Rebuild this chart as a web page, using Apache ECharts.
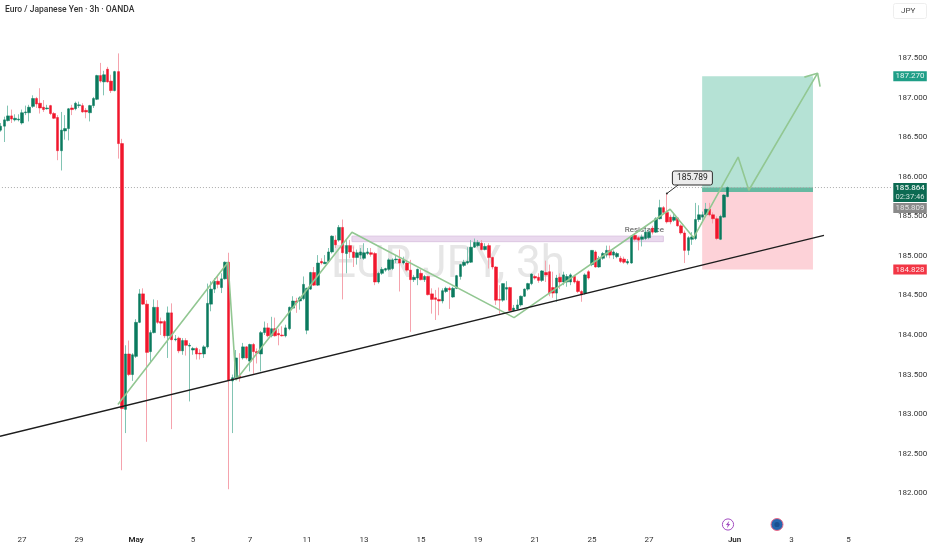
<!DOCTYPE html>
<html><head><meta charset="utf-8">
<style>html,body{margin:0;padding:0;background:#fff}#c{width:932px;height:550px}</style>
<script src="https://cdn.jsdelivr.net/npm/echarts@6/dist/echarts.min.js"></script>
</head><body><div id="c"></div>
<script>
const opens=[186.59,186.64,186.71,186.77,186.72,186.72,186.68,186.81,186.81,186.89,
186.99,186.93,186.88,186.86,186.90,186.80,186.75,186.33,186.58,186.61,
186.87,186.86,186.90,186.90,186.84,186.81,186.90,186.98,187.28,187.20,
187.36,187.21,187.09,187.33,186.42,183.06,183.76,183.50,183.73,184.16,
184.52,184.39,183.79,184.03,184.35,184.17,184.17,183.99,184.28,183.94,
183.96,183.80,183.93,183.86,183.81,183.83,183.77,183.76,183.85,184.39,
184.58,184.68,184.60,184.71,184.92,183.42,183.46,183.48,183.71,183.85,
183.67,183.88,183.79,183.76,184.03,184.09,183.99,184.08,184.02,184.00,
183.99,184.08,184.34,184.43,184.43,184.46,184.06,184.58,184.79,184.63,
184.93,184.90,184.93,185.05,185.20,185.20,185.36,185.03,185.13,185.05,
184.98,185.01,184.97,185.03,185.04,185.03,184.67,184.78,184.82,184.83,
184.84,184.95,184.96,184.91,184.91,184.82,184.70,184.72,184.78,184.70,
184.74,184.52,184.47,184.45,184.43,184.55,184.59,184.48,184.59,184.74,
184.88,184.91,184.92,185.11,185.13,185.16,185.08,185.13,184.98,184.86,
184.45,184.44,184.58,184.60,184.31,184.33,184.38,184.49,184.58,184.65,
184.74,184.73,184.69,184.79,184.80,184.60,184.53,184.73,184.67,184.67,
184.67,184.74,184.68,184.55,184.53,184.80,184.89,185.05,184.86,184.97,
185.01,185.07,185.01,184.99,184.97,184.96,184.91,184.91,185.26,185.23,
185.21,185.22,185.23,185.35,185.30,185.47,185.61,185.55,185.49,185.45,
185.48,185.38,185.29,185.07,185.21,185.22,185.46,185.49,185.52,185.59,
185.52,185.47,185.21,185.49,185.75];
const closes=[186.64,186.72,186.77,186.73,186.74,186.73,186.81,186.82,186.88,186.99,
186.92,186.87,186.85,186.87,186.80,186.74,186.33,186.59,186.61,186.86,
186.85,186.93,186.91,186.82,186.82,186.90,186.99,187.28,187.21,187.29,
187.20,187.09,187.33,186.42,183.07,183.76,183.50,183.75,184.16,184.52,
184.39,183.78,184.03,184.35,184.16,184.15,183.99,184.28,183.94,183.95,
183.80,183.93,183.87,183.87,183.83,183.76,183.76,183.85,184.40,184.58,
184.68,184.64,184.71,184.92,183.43,183.46,183.71,183.47,183.85,183.71,
183.88,183.79,183.77,184.03,184.09,183.99,184.08,183.99,184.00,183.99,
184.09,184.35,184.43,184.41,184.47,184.64,184.59,184.79,184.63,184.91,
184.91,184.92,185.05,185.25,185.14,185.36,185.04,185.13,185.05,184.98,
185.04,185.05,185.04,185.05,185.02,184.67,184.78,184.83,184.84,184.95,
184.95,184.96,184.91,184.94,184.82,184.70,184.73,184.83,184.70,184.74,
184.51,184.45,184.45,184.43,184.56,184.59,184.57,184.59,184.75,184.89,
184.92,184.93,185.11,185.17,185.17,185.08,185.12,184.98,184.86,184.44,
184.44,184.65,184.60,184.31,184.34,184.38,184.49,184.58,184.65,184.77,
184.72,184.69,184.81,184.76,184.53,184.53,184.72,184.67,184.76,184.74,
184.76,184.67,184.55,184.51,184.76,184.72,185.07,184.86,184.97,185.03,
185.07,185.01,185.05,185.03,184.93,184.92,184.93,185.25,185.21,185.20,
185.24,185.30,185.30,185.30,185.47,185.61,185.55,185.43,185.43,185.49,
185.38,185.29,185.07,185.23,185.24,185.46,185.52,185.52,185.59,185.52,
185.47,185.22,185.50,185.77,185.864];
const highs=[186.68,186.76,186.90,186.85,186.79,186.79,186.85,186.90,186.91,187.03,
187.01,187.12,186.97,186.91,186.91,186.82,186.78,186.82,186.78,186.87,
186.91,186.95,186.95,186.93,186.87,186.91,187.01,187.29,187.44,187.34,
187.39,187.29,187.34,187.56,186.48,183.87,183.93,183.77,184.20,184.58,
184.59,184.44,184.06,184.45,184.44,184.22,184.19,184.36,184.40,184.00,
183.98,183.96,183.96,183.90,183.85,183.85,183.82,183.87,184.65,184.68,
184.72,184.76,184.78,184.93,185.04,183.50,183.81,183.77,183.90,183.86,
183.89,183.90,183.83,184.05,184.17,184.15,184.23,184.22,184.08,184.11,
184.13,184.36,184.49,184.47,184.49,184.74,184.60,184.80,184.86,185.01,
184.97,185.01,185.10,185.26,185.26,185.39,185.46,185.20,185.20,185.12,
185.08,185.10,185.16,185.10,185.10,185.05,184.80,184.86,184.85,184.97,
184.97,185.01,185.08,184.99,184.95,184.95,184.76,184.84,184.83,184.76,
184.75,184.59,184.57,184.60,184.59,184.61,184.61,184.61,184.76,184.90,
184.95,185.11,185.20,185.22,185.20,185.20,185.16,185.16,184.99,184.87,
184.63,184.65,184.68,184.61,184.38,184.45,184.50,184.59,184.66,184.78,
184.76,184.78,184.82,184.94,184.89,184.80,184.76,184.78,184.80,184.77,
184.78,184.76,184.70,184.57,184.78,184.82,185.07,185.07,185.00,185.05,
185.13,185.13,185.07,185.05,185.00,184.99,184.96,185.26,185.29,185.25,
185.27,185.34,185.33,185.38,185.49,185.71,185.63,185.789,185.52,185.54,
185.49,185.40,185.32,185.25,185.30,185.67,185.64,185.56,185.67,185.67,
185.55,185.50,185.52,185.78,185.88];
const lows=[186.57,186.44,186.70,186.68,186.70,186.70,186.66,186.78,186.70,186.87,
186.87,186.80,186.82,186.85,186.78,186.73,186.21,186.08,186.47,186.46,
186.78,186.84,186.87,186.81,186.74,186.70,186.87,186.97,187.19,187.03,
187.19,187.06,187.08,186.23,182.29,182.76,183.48,183.42,183.71,184.15,
184.38,182.65,183.66,184.02,184.14,184.00,183.96,183.71,182.81,183.92,
183.77,183.75,183.74,183.16,183.75,183.69,183.69,183.71,183.83,184.30,
184.53,184.59,184.53,184.70,182.05,182.76,183.45,183.41,183.69,183.69,
183.54,183.51,183.64,183.54,184.00,183.97,183.97,183.98,183.87,183.98,
183.97,184.06,184.33,184.28,184.32,184.44,184.01,184.57,184.62,184.62,
184.89,184.90,184.91,185.03,185.10,185.18,184.45,184.78,184.97,184.86,
184.89,184.96,184.95,185.01,184.99,184.63,184.65,184.76,184.80,184.81,
184.82,184.91,184.55,184.89,184.80,184.04,184.67,184.63,184.69,184.67,
184.50,184.27,184.19,184.25,184.40,184.53,184.33,184.47,184.58,184.70,
184.86,184.89,184.91,185.10,185.11,185.07,185.07,184.84,184.83,184.38,
184.27,184.42,184.44,184.30,184.30,184.32,184.36,184.48,184.56,184.63,
184.70,184.66,184.67,184.67,184.49,184.47,184.42,184.58,184.63,184.61,
184.63,184.65,184.53,184.42,184.51,184.70,184.87,184.85,184.85,184.95,
184.98,184.97,184.96,184.97,184.91,184.90,184.89,184.90,185.19,185.07,
185.12,185.20,185.21,185.27,185.29,185.46,185.53,185.41,185.40,185.43,
185.37,185.27,184.91,185.01,185.14,185.20,185.43,185.43,185.49,185.50,
185.41,185.20,185.20,185.48,185.74];

const barCount=251;
const dateLabelIndex=[6,22,38,54,70,86,102,118,134,150,166,182,206,222,238];
const dateLabels=['27','29','May','5','7','11','13','15','19','21','25','27','Jun','3','5'];
const priceTicks=[182,182.5,183,183.5,184,184.5,185,185.5,186,186.5,187,187.5];

const trendLine=[[-0.2,182.72],[231.1,185.26]];
const zigzag=[[32.9,183.12],[63.8,184.92],[66.05,183.43],[98.6,185.30],[144.1,184.22],[187.9,185.59],[194.5,185.23],[207,186.25],[210,185.83],[229.3,187.31]];
const arrowBarbs=[[225.6,187.26],[229.3,187.31],[230,187.14]];
const lastPrice=185.864, entryPrice=185.809, targetPrice=187.27, stopPrice=184.828;
const zoneStart=196.9, zoneEnd=228;
const resistance=[98.6,186,185.25,185.18];
const calloutPoint=[187,185.789];
const calloutText='185.789';
const priceTags=[['target',187.27,'187.270'],['last',185.864,'185.864','02:37:46'],['entry',185.809,'185.809'],['stop',184.828,'184.828']];

const categories=Array.from({length:barCount},(_,i)=>{const k=dateLabelIndex.indexOf(i);return k<0?'':dateLabels[k];});
const FONT='Roboto, "Noto Sans", sans-serif';
const UP='#0a7a5e', DOWN='#f0172c', UPW='#82c4b3', DOWNW='#f5a3ad';
const tagStyle={target:{fill:'#1f9e87',dy:0,h:10,tc:'#e6f5f1'},last:{fill:'#0c6a52',dy:5,h:19,tc:'#e6f2ee'},entry:{fill:'#8a8a8a',dy:16,h:10,tc:'#e4e4e4'},stop:{fill:'#f23645',dy:0,h:10,tc:'#fde8ea'}};

const chart=echarts.init(document.getElementById('c'),null,{renderer:'canvas'});
const zoneRows=[[zoneStart,zoneEnd,targetPrice,entryPrice,'#b5e2d5'],[zoneStart,zoneEnd,entryPrice,stopPrice,'#fdd2d8'],[zoneStart,zoneEnd,lastPrice,entryPrice,'#67b9a1']];
function lineS(name,data,color,width,extra){return Object.assign({name,type:'line',xAxisIndex:1,yAxisIndex:0,data,symbol:'none',silent:true,animation:false,lineStyle:{color,width},z:5},extra||{});}
chart.setOption({
 animation:false,
 textStyle:{fontFamily:FONT},
 grid:{left:-1.08,top:18.6,width:894.19,height:514.15,containLabel:false,outerBoundsMode:'none'},
 xAxis:[
  {type:'category',data:categories,boundaryGap:true,axisLine:{show:false},axisTick:{show:false},splitLine:{show:false},
   axisLabel:{interval:0,margin:3,fontSize:8,color:'#333',fontFamily:FONT,showMinLabel:true,showMaxLabel:true,
     formatter:v=>(v==='May'||v==='Jun')?'{b|'+v+'}':v,rich:{b:{fontSize:8,fontWeight:600,color:'#222',fontFamily:FONT}}}},
  {type:'value',min:-0.5,max:barCount-0.5,show:false,splitLine:{show:false}}
 ],
 yAxis:[{type:'value',position:'right',min:181.5,max:188,interval:0.5,scale:true,axisLine:{show:false},axisTick:{show:false},splitLine:{show:false},
   axisLabel:{margin:5,fontSize:8,color:'#333',fontFamily:FONT,showMinLabel:false,showMaxLabel:false,formatter:v=>priceTicks.includes(v)?v.toFixed(3):''}}],
 graphic:[
  {type:'text',z:0,silent:true,left:331,top:244,style:{text:'EUR JPY, 3h',font:'44px Roboto, sans-serif',fill:'#e6e6e6'}},
  {type:'text',z:50,left:5,top:5.5,style:{text:'Euro / Japanese Yen · 3h · OANDA',font:'500 8.5px Roboto, sans-serif',fill:'#333'}},
  {type:'rect',z:50,shape:{x:893.5,y:3.5,width:33,height:15,r:2},style:{fill:'#fff',stroke:'#eeeeee',lineWidth:1}},
  {type:'text',z:51,left:901,top:7,style:{text:'JPY',font:'8px Roboto, sans-serif',fill:'#444'}},
  {type:'circle',z:50,shape:{cx:728,cy:524.5,r:5.6},style:{fill:'#fff',stroke:'#a24cc0',lineWidth:1}},
  {type:'polygon',z:51,shape:{points:[[729.3,520.8],[725.9,525],[727.8,525],[726.9,528.2],[730.2,524],[728.3,524]]},style:{fill:'#a24cc0'}},
  {type:'circle',z:50,shape:{cx:777,cy:524.5,r:6},style:{fill:'#2566ad',stroke:'#ea6a8a',lineWidth:1}},
  {type:'circle',z:51,shape:{cx:777,cy:524.5,r:2.6},style:{fill:'#1a4f90'}}
 ],
 series:[
  {name:'zones',type:'custom',xAxisIndex:1,yAxisIndex:0,z:1,silent:true,data:zoneRows.map(r=>r.slice(0,4)),
   renderItem:(p,api)=>{const r=zoneRows[p.dataIndex];const a=api.coord([r[0],r[2]]),b=api.coord([r[1],r[3]]);
     return {type:'rect',shape:{x:a[0],y:a[1],width:b[0]-a[0],height:b[1]-a[1]},style:{fill:r[4]}};}},
  {name:'resistance zone',type:'custom',xAxisIndex:1,yAxisIndex:0,z:1,silent:true,data:[resistance],
   renderItem:(p,api)=>{const a=api.coord([api.value(0),api.value(2)]),b=api.coord([api.value(1),api.value(3)]);
     return {type:'group',children:[
      {type:'rect',shape:{x:a[0],y:a[1],width:b[0]-a[0],height:b[1]-a[1]},style:{fill:'#ead9ee',stroke:'#dcc6e2',lineWidth:1}},
      {type:'text',style:{text:'Resistance',x:b[0]-19,y:a[1]-6,fill:'#555',font:'8px Roboto, sans-serif',align:'center',verticalAlign:'middle'},z2:20}]};}},
  lineS('last price',[[-0.5,lastPrice],[barCount-0.5,lastPrice]],'#8d8d8d',1,{lineStyle:{color:'#a8a8a8',width:1,type:[1,2]},z:1}),
  {name:'wicks',type:'candlestick',barWidth:1,z:2,silent:true,animation:false,data:opens.map((o,i)=>[o,closes[i],lows[i],highs[i]]),
   itemStyle:{color:UPW,color0:DOWNW,borderColor:UPW,borderColor0:DOWNW,borderWidth:1}},
  {name:'EUR/JPY',type:'candlestick',barWidth:3,z:3,silent:true,animation:false,data:opens.map((o,i)=>[o,closes[i],Math.min(o,closes[i]),Math.max(o,closes[i])]),
   itemStyle:{color:UP,color0:DOWN,borderColor:UP,borderColor0:DOWN,borderWidth:0.5}},
  lineS('pattern',zigzag,'#92c792',1.6),
  lineS('arrow',arrowBarbs,'#92c792',1.6),
  lineS('trend',trendLine,'#1d1d1d',1.3,{z:6}),
  {name:'callout',type:'custom',xAxisIndex:1,yAxisIndex:0,z:8,silent:true,data:[calloutPoint],
   renderItem:(p,api)=>{const c=api.coord([api.value(0),api.value(1)]);const x=c[0]+5.5,y=c[1]-22.5;
     return {type:'group',children:[
      {type:'polyline',shape:{points:[[c[0],c[1]],[x+7,y+13]]},style:{stroke:'#333',lineWidth:1,fill:null}},
      {type:'circle',shape:{cx:c[0],cy:c[1],r:1},style:{fill:'#333'}},
      {type:'rect',shape:{x,y,width:40,height:14,r:2},style:{fill:'#ececec',stroke:'#2d2d2d',lineWidth:1}},
      {type:'text',style:{text:calloutText,x:x+20,y:y+7,fill:'#222',font:'8.5px Roboto, sans-serif',align:'center',verticalAlign:'middle'}}]};}},
  {name:'price tags',type:'custom',xAxisIndex:1,yAxisIndex:0,z:9,silent:true,clip:false,data:priceTags.map(t=>[barCount-0.5,t[1]]),
   renderItem:(p,api)=>{const t=priceTags[p.dataIndex],s=tagStyle[t[0]],c=api.coord([api.value(0),api.value(1)]);
     const cy=c[1]+s.dy,x=893.3,w=33.5,kids=[{type:'rect',shape:{x,y:cy-s.h/2,width:w,height:s.h},style:{fill:s.fill}}];
     if(t[3]){kids.push({type:'text',style:{text:t[2],x:x+w/2,y:cy-4.5,fill:s.tc,font:'500 8px Roboto, sans-serif',align:'center',verticalAlign:'middle'}});
       kids.push({type:'text',style:{text:t[3],x:x+w/2,y:cy+4.5,fill:'#cfe3dd',font:'7.5px Roboto, sans-serif',align:'center',verticalAlign:'middle'}});}
     else kids.push({type:'text',style:{text:t[2],x:x+w/2,y:cy,fill:s.tc,font:'8px Roboto, sans-serif',align:'center',verticalAlign:'middle'}});
     return {type:'group',children:kids};}}
 ]
});
</script></body></html>
